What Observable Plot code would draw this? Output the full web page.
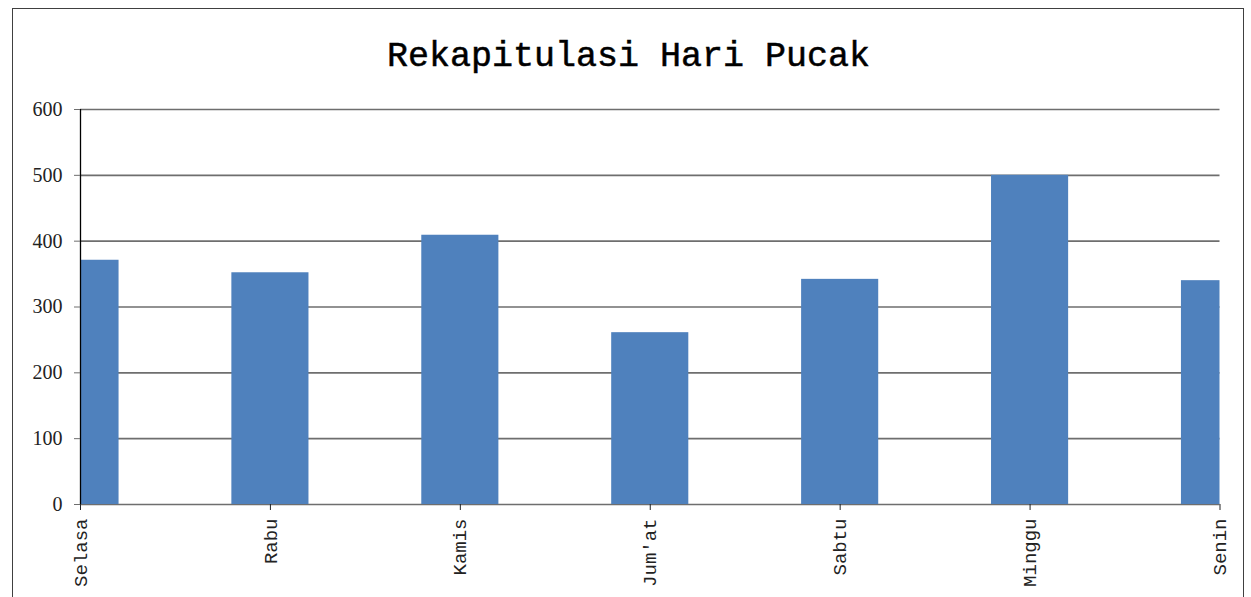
<!DOCTYPE html>
<html><head><meta charset="utf-8">
<script src="https://cdn.jsdelivr.net/npm/d3@7"></script>
<script src="https://cdn.jsdelivr.net/npm/@observablehq/plot@0.6"></script>
<style>
html,body{margin:0;padding:0;background:#fff;overflow:hidden;width:1251px;height:597px;}
#frame{position:absolute;left:12px;top:8px;width:1232px;height:640px;border:1px solid #404040;box-sizing:border-box;}
#title{position:absolute;left:3px;top:40px;width:1251px;text-align:center;font-family:"Liberation Mono",monospace;font-size:35px;line-height:35px;color:#000;white-space:pre;-webkit-text-stroke:0.5px #000;}
#chart{position:absolute;left:0;top:85px;}
</style></head>
<body>
<div id="frame"></div>
<div id="title">Rekapitulasi Hari Pucak</div>
<div id="chart"></div>
<script>
const days = ["Selasa","Rabu","Kamis","Jum'at","Sabtu","Minggu","Senin"];
const visitors = [371, 352, 409, 261, 342, 500, 340];
const yTicks = [0, 100, 200, 300, 400, 500, 600];

const data = days.map((d, i) => ({i, day: d, value: visitors[i]}));
const half = 0.203;

const plot = Plot.plot({
  width: 1251,
  height: 512,
  marginTop: 24,
  marginBottom: 93,
  marginLeft: 80,
  marginRight: 31.5,
  style: {fontFamily: "Liberation Serif", fontSize: "20px", color: "#222", background: "transparent"},
  x: {type: "linear", domain: [0, days.length - 1], range: [80, 1219.5]},
  y: {domain: [0, 600], range: [419, 24]},
  marks: [
    Plot.ruleY(yTicks, {stroke: "#6e6e6e", strokeWidth: 1.6}),
    Plot.rectY(data, {x1: d => d.i - half, x2: d => d.i + half, y1: 0, y2: "value", fill: "#4F81BD", clip: true}),
    Plot.ruleX([0], {y1: 0, y2: 600, stroke: "#000", strokeWidth: 1.3}),
    Plot.axisY({ticks: yTicks, tickSize: 6, tickPadding: 12, stroke: "#6e6e6e", fill: "#222", fontSize: 20, fontFamily: "Liberation Serif", label: null}),
    Plot.axisX({ticks: d3.range(days.length), tickFormat: i => days[i], tickRotate: -90, tickSize: 6, tickPadding: 8, stroke: "#222", fill: "#222", fontSize: 19, fontFamily: "Liberation Mono", label: null})
  ]
});
document.getElementById("chart").appendChild(plot);
</script>
</body></html>
